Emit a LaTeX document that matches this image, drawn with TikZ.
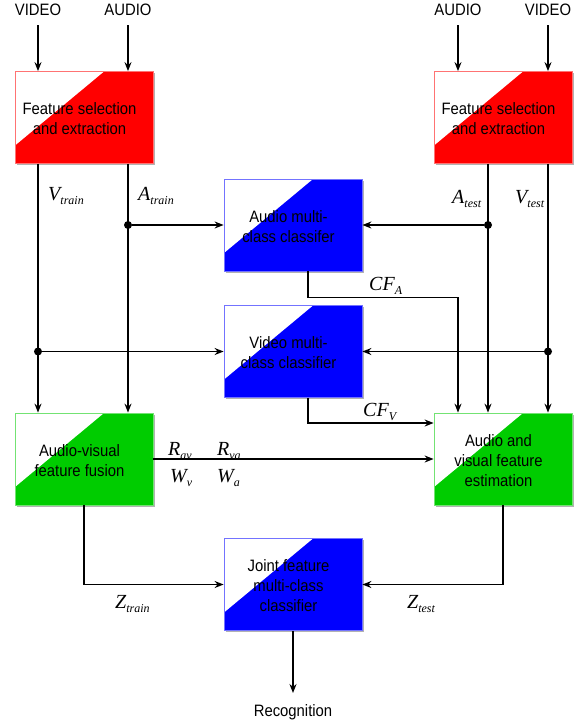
\documentclass[tikz,border=0pt]{standalone}
\usepackage{fontspec}
\setmainfont{Liberation Sans}[FakeStretch=0.9]
\newfontfamily\lblfont{Liberation Serif}
\usetikzlibrary{arrows.meta,shadows}
\definecolor{grn}{RGB}{0,204,0}
\newcommand{\ml}[2]{{\lblfont\itshape\fontsize{20}{20}\selectfont #1\raisebox{-4.5pt}{\fontsize{12}{12}\selectfont #2}}}
\newcommand{\bt}[1]{\hspace*{-9pt}\raisebox{0pt}[\dimexpr\height+6pt\relax][\depth]{\begin{tabular}{@{}c@{}}#1\end{tabular}}}
\begin{document}
\begin{tikzpicture}[x=1pt,y=-1pt,
  font=\fontsize{16.5}{20}\selectfont,
  arr/.style={line width=1.5pt, -{Stealth[length=9pt,width=7pt,inset=3pt]}},
  blk/.style={rectangle, minimum width=138pt, minimum height=92pt, inner sep=0pt,
    fill=#1, draw=#1!55, line width=0.8pt,
    drop shadow={shadow xshift=1.5pt, shadow yshift=-1.5pt, opacity=0.3, fill=black},
    path picture={\fill[white] (path picture bounding box.north west) -- ++(89pt,0pt) -- ++(-89pt,-74pt) -- cycle;}},
  io/.style={inner sep=0pt},
  lbl/.style={anchor=west, inner sep=0pt},
  dot/.style={circle, fill=black, minimum size=8pt, inner sep=0pt}
]
\useasboundingbox (0,0) rectangle (583,726);

% inputs
\node[io, anchor=south] (vidL) at (38,16) {VIDEO};
\node[io, anchor=south] (audL) at (128,16) {AUDIO};
\node[io, anchor=south] (audR) at (458,16) {AUDIO};
\node[io, anchor=south] (vidR) at (548,16) {VIDEO};

% blocks
\node[blk=red] (fsL) at (84,117.5) {\bt{Feature selection\\and extraction}};
\node[blk=red] (fsR) at (503,117.5) {\bt{Feature selection\\and extraction}};
\node[blk=blue] (acls) at (293,225) {\bt{Audio multi-\\class classifer}};
\node[blk=blue] (vcls) at (293,351.5) {\bt{Video multi-\\class classifier}};
\node[blk=grn] (avf) at (84,459) {\bt{Audio-visual\\feature fusion}};
\node[blk=grn] (est) at (503,459) {\bt{Audio and\\visual feature\\estimation}};
\node[blk=blue] (joint) at (293,584.5) {\bt{Joint feature\\multi-class\\classifier}};
\node[io, anchor=north] (rec) at (293,704) {Recognition};

% input arrows
\draw[arr] ([yshift=-9pt]vidL.south) -- (vidL.south |- fsL.north);
\draw[arr] ([yshift=-9pt]audL.south) -- (audL.south |- fsL.north);
\draw[arr] ([yshift=-9pt]audR.south) -- (audR.south |- fsR.north);
\draw[arr] ([yshift=-9pt]vidR.south) -- (vidR.south |- fsR.north);

% junction dots
\node[dot] (ja) at ([xshift=44pt]fsL.south |- acls.west) {};
\node[dot] (jv) at ([xshift=-46pt]fsL.south |- vcls.west) {};
\node[dot] (jat) at ([xshift=-15pt]fsR.south |- acls.east) {};
\node[dot] (jvt) at ([xshift=45pt]fsR.south |- vcls.east) {};

% training lines
\draw[arr] ([xshift=-46pt]fsL.south) -- ([xshift=-46pt]avf.north);
\draw[arr] ([xshift=44pt]fsL.south) -- ([xshift=44pt]avf.north);
\draw[arr] (ja) -- (acls.west);
\draw[arr] (jv) -- (vcls.west);

% test lines
\draw[arr] ([xshift=-15pt]fsR.south) -- ([xshift=-15pt]est.north);
\draw[arr] ([xshift=45pt]fsR.south) -- ([xshift=45pt]est.north);
\draw[arr] (jat) -- (acls.east);
\draw[arr] (jvt) -- (vcls.east);

% classifier outputs
\draw[arr] ([xshift=15pt]acls.south) -- ++(0,26) -| ([xshift=-45pt]est.north);
\draw[arr] ([xshift=15pt]vcls.south) |- ([yshift=36pt]est.west);

% fusion to estimation
\draw[arr] (avf.east) -- (est.west);

% to joint classifier
\draw[arr] (avf.south) |- (joint.west);
\draw[arr] (est.south) |- (joint.east);
\draw[arr] (joint.south) -- ([yshift=11pt]rec.north);

% labels
\node[lbl] (lvt) at (48,196) {\ml{V}{train}};
\node[lbl] (lat) at (138,196) {\ml{A}{train}};
\node[lbl] (late) at (452,199) {\ml{A}{test}};
\node[lbl] (lvte) at (515,199) {\ml{V}{test}};
\node[lbl] (lcfa) at (369,286) {\ml{CF}{A}};
\node[lbl] (lcfv) at (363,412) {\ml{CF}{V}};
\node[lbl] (lrav) at (168,451) {\ml{R}{av}};
\node[lbl] (lrva) at (217,451) {\ml{R}{va}};
\node[lbl] (lwv) at (170,478) {\ml{W}{v}};
\node[lbl] (lwa) at (217,478) {\ml{W}{a}};
\node[lbl] (lzt) at (115,604) {\ml{Z}{train}};
\node[lbl] (lzte) at (407,604) {\ml{Z}{test}};
\end{tikzpicture}
\end{document}
